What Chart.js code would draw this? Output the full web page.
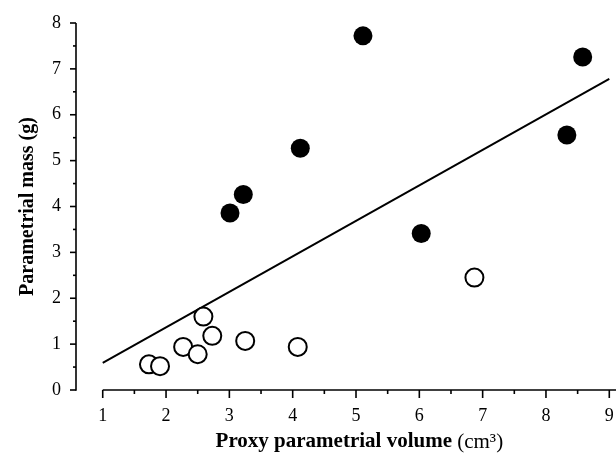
<!DOCTYPE html>
<html>
<head>
<meta charset="utf-8">
<title>Parametrial mass vs proxy volume</title>
<script src="https://cdn.jsdelivr.net/npm/chart.js@4.4.1/dist/chart.umd.min.js"></script>
<style>
  html, body { margin:0; padding:0; background:#fff; }
  #wrap { width:616px; height:454px; }
</style>
</head>
<body>
<div id="wrap"><canvas id="chart" width="616" height="454"></canvas></div>
<script>
  // ---------- Data ----------
  // filled circles
  const filledX = [3.01, 3.22, 4.12, 5.11, 6.03, 8.33, 8.58];
  const filledY = [3.86, 4.26, 5.27, 7.72, 3.41, 5.56, 7.26];
  // open circles
  const openX = [1.73, 1.905, 2.27, 2.50, 2.59, 2.73, 3.25, 4.08, 6.87];
  const openY = [0.56, 0.52, 0.94, 0.78, 1.60, 1.18, 1.07, 0.94, 2.45];
  // regression line end points
  const fitX = [1, 9];
  const fitY = [0.59, 6.78];

  // axis ticks
  const xTickVals = [1, 1.5, 2, 2.5, 3, 3.5, 4, 4.5, 5, 5.5, 6, 6.5, 7, 7.5, 8, 8.5, 9];
  const yTickVals = [0, 0.5, 1, 1.5, 2, 2.5, 3, 3.5, 4, 4.5, 5, 5.5, 6, 6.5, 7, 7.5, 8];
  const xTitleBold = 'Proxy parametrial volume ';
  const xTitleUnit = '(cm\u00B3)';
  const yTitle = 'Parametrial mass (g)';

  const zip = (xs, ys) => xs.map((x, i) => ({ x, y: ys[i] }));
  const FONT = '"Liberation Serif", "Times New Roman", serif';

  // ---------- Axes drawn from the scales ----------
  const axesPlugin = {
    id: 'axes',
    afterDraw(chart) {
      const { ctx, chartArea: a, scales: { x, y } } = chart;
      const seg = (x1, y1, x2, y2) => { ctx.beginPath(); ctx.moveTo(x1, y1); ctx.lineTo(x2, y2); ctx.stroke(); };
      ctx.save();
      ctx.strokeStyle = '#000';
      ctx.lineWidth = 1.6;
      ctx.lineCap = 'butt';

      // y axis
      const y0 = y.getPixelForValue(yTickVals[0]);
      const y1 = y.getPixelForValue(yTickVals[yTickVals.length - 1]);
      seg(a.left, y0 + 0.8, a.left, y1);
      yTickVals.forEach(v => {
        const len = Number.isInteger(v) ? 6 : 3;
        const py = y.getPixelForValue(v);
        seg(a.left - len, py, a.left, py);
      });

      // x axis (starts at the first tick)
      const xb = y.getPixelForValue(0);
      seg(x.getPixelForValue(xTickVals[0]), xb, a.right, xb);
      xTickVals.forEach(v => {
        const len = Number.isInteger(v) ? 8 : 4;
        const px = x.getPixelForValue(v);
        seg(px, xb, px, xb + len);
      });

      // titles
      ctx.fillStyle = '#000';
      ctx.textBaseline = 'middle';
      const boldX = 'bold 21px ' + FONT, regX = '21px ' + FONT;
      ctx.font = boldX;
      const wb = ctx.measureText(xTitleBold).width;
      ctx.font = regX;
      const wu = ctx.measureText(xTitleUnit).width;
      const cx = (x.getPixelForValue(xTickVals[0]) + a.right) / 2;
      const tx = cx - (wb + wu) / 2;
      ctx.textAlign = 'left';
      ctx.font = boldX;
      ctx.fillText(xTitleBold, tx, 442);
      ctx.font = regX;
      ctx.fillText(xTitleUnit, tx + wb, 442);

      ctx.save();
      ctx.translate(28, (y0 + y1) / 2);
      ctx.rotate(-Math.PI / 2);
      ctx.textAlign = 'center';
      ctx.font = 'bold 20px ' + FONT;
      ctx.fillText(yTitle, 0, 0);
      ctx.restore();
      ctx.restore();
    }
  };

  new Chart(document.getElementById('chart'), {
    type: 'scatter',
    data: {
      datasets: [
        {
          label: 'filled',
          data: zip(filledX, filledY),
          pointStyle: 'circle',
          pointRadius: 9.5,
          pointBackgroundColor: '#000',
          pointBorderColor: '#000',
          pointBorderWidth: 0
        },
        {
          label: 'open',
          data: zip(openX, openY),
          pointStyle: 'circle',
          pointRadius: 9,
          pointBackgroundColor: '#fff',
          pointBorderColor: '#000',
          pointBorderWidth: 2
        },
        {
          label: 'fit',
          type: 'line',
          data: zip(fitX, fitY),
          borderColor: '#000',
          borderWidth: 2,
          pointRadius: 0,
          fill: false
        }
      ]
    },
    options: {
      responsive: false,
      animation: false,
      layout: { autoPadding: false, padding: { top: 23, right: 0, left: 0, bottom: 0 } },
      plugins: { legend: { display: false }, tooltip: { enabled: false } },
      scales: {
        x: {
          type: 'linear',
          min: 0.578,
          max: 9.106,
          afterBuildTicks: s => { s.ticks = xTickVals.map(v => ({ value: v })); },
          afterFit: s => { s.height = 64; s.paddingLeft = 0; s.paddingRight = 0; },
          grid: { display: false, drawTicks: false },
          border: { display: false },
          ticks: {
            autoSkip: false,
            maxRotation: 0,
            padding: 15,
            color: '#000',
            font: { family: FONT, size: 18 },
            callback: v => Number.isInteger(v) ? String(v) : ''
          }
        },
        y: {
          type: 'linear',
          min: 0,
          max: 8,
          afterBuildTicks: s => { s.ticks = yTickVals.map(v => ({ value: v })); },
          afterFit: s => { s.width = 76; s.paddingTop = 0; s.paddingBottom = 0; },
          grid: { display: false, drawTicks: false },
          border: { display: false },
          ticks: {
            autoSkip: false,
            padding: 15,
            color: '#000',
            font: { family: FONT, size: 18 },
            callback: v => Number.isInteger(v) ? String(v) : ''
          }
        }
      }
    },
    plugins: [axesPlugin]
  });
</script>
</body>
</html>
